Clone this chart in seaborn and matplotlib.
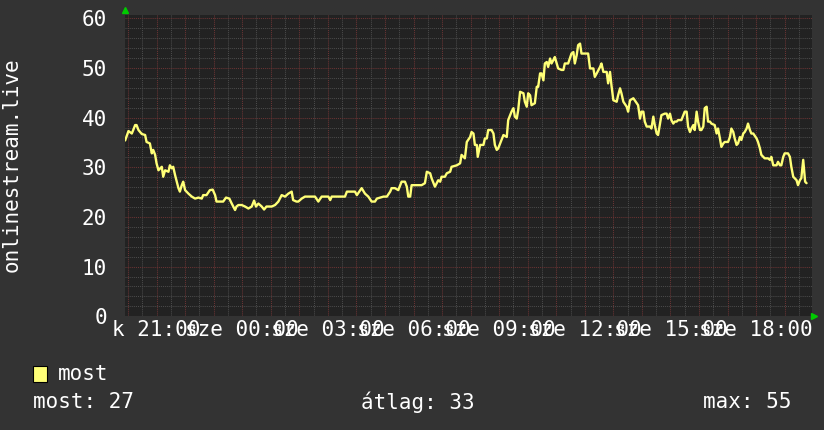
import matplotlib
matplotlib.use("Agg")
import matplotlib.pyplot as plt
import seaborn as sns
import pandas as pd
from matplotlib.patches import Rectangle

# minutes after 20:00 (tuesday)
minutes = [
    -6, 1, 8, 11, 15, 18, 22, 29, 36, 39, 46, 50, 53, 57, 60, 64, 71, 74, 78, 85,
    88, 92, 95, 99, 106, 109, 113, 116, 120, 127, 134, 141, 148, 155, 158, 165, 172, 178, 183, 186,
    193, 200, 206, 213, 218, 225, 228, 232, 239, 246, 253, 260, 265, 269, 274, 281, 286, 291, 302, 309,
    316, 323, 330, 337, 344, 347, 354, 358, 365, 372, 393, 400, 407, 421, 425, 428, 456, 460, 477, 481,
    491, 498, 505, 512, 519, 523, 537, 544, 551, 554, 561, 568, 575, 582, 586, 589, 593, 596, 603, 617,
    624, 628, 635, 638, 645, 652, 656, 659, 666, 670, 677, 680, 691, 698, 701, 708, 712, 719, 722, 726,
    729, 733, 735, 740, 747, 750, 754, 757, 764, 768, 771, 775, 778, 782, 789, 796, 799, 806, 810, 813,
    817, 820, 824, 831, 834, 838, 841, 845, 848, 855, 859, 862, 866, 869, 873, 876, 880, 883, 887, 890,
    894, 897, 901, 904, 911, 915, 918, 925, 932, 936, 939, 943, 946, 950, 953, 967, 971, 978, 981, 985,
    992, 995, 999, 1006, 1009, 1013, 1016, 1020, 1027, 1030, 1034, 1037, 1041, 1048, 1051, 1055, 1062, 1069, 1072, 1076,
    1079, 1083, 1086, 1090, 1097, 1100, 1104, 1107, 1111, 1114, 1118, 1121, 1128, 1132, 1135, 1139, 1142, 1146, 1149, 1153,
    1156, 1163, 1167, 1170, 1174, 1177, 1181, 1184, 1188, 1191, 1195, 1198, 1202, 1205, 1209, 1212, 1216, 1219, 1223, 1226,
    1233, 1237, 1240, 1244, 1247, 1251, 1254, 1261, 1265, 1268, 1272, 1275, 1279, 1282, 1286, 1289, 1293, 1296, 1300, 1303,
    1307, 1310, 1314, 1321, 1324, 1328, 1331, 1335, 1338, 1345, 1349, 1352, 1356, 1363, 1366, 1370, 1373, 1377, 1380, 1387,
    1391, 1394, 1398, 1401, 1405, 1408, 1412, 1415, 1419, 1423, 1426,
]
visitors = [
    35.4, 37.3, 36.8, 37.5, 38.5, 38.5, 37.5, 36.7, 36.5, 35.1, 34.8, 32.8, 33.5, 32.5, 30.8, 29.4, 30.1, 28.1, 29.4, 29.1,
    30.4, 29.8, 30.1, 28.4, 25.8, 25.1, 26.4, 27.1, 25.4, 24.7, 24.1, 23.7, 23.9, 23.7, 24.4, 24.4, 25.4, 25.5, 24.4, 23.1,
    23.1, 23.1, 23.9, 23.7, 22.7, 21.4, 22.1, 22.4, 22.4, 22.1, 21.7, 22.1, 23.3, 22.1, 22.7, 22.1, 21.5, 22.1, 22.1, 22.4,
    23.1, 24.4, 24.1, 24.7, 25.1, 23.4, 23.1, 23.1, 23.7, 24.1, 24.1, 23.1, 24.1, 24.1, 23.4, 24.1, 24.1, 25.1, 25.1, 24.4,
    25.8, 24.7, 24.1, 23.1, 23.1, 23.7, 24.1, 24.1, 25.1, 25.8, 25.8, 25.4, 27.1, 27.1, 26.1, 24.1, 24.1, 26.4, 26.4, 26.4,
    26.8, 29.1, 28.8, 27.8, 26.1, 27.4, 27.1, 28.1, 28.1, 28.8, 29.1, 30.1, 30.4, 30.8, 32.5, 31.8, 35.1, 36.1, 37.1, 36.8,
    34.5, 34.5, 32.1, 34.5, 34.5, 35.8, 35.8, 37.5, 37.5, 36.8, 34.5, 33.5, 33.8, 34.8, 36.5, 36.1, 39.5, 41.2, 41.9, 40.2,
    39.8, 41.5, 45.2, 44.9, 43.2, 42.2, 44.9, 44.5, 42.5, 42.9, 46.2, 46.2, 48.9, 48.9, 47.5, 50.9, 51.2, 50.2, 51.9, 50.9,
    51.6, 52.2, 50.9, 49.9, 49.6, 49.6, 50.9, 50.9, 52.9, 53.2, 50.9, 52.6, 54.6, 54.9, 52.9, 52.9, 49.9, 49.9, 48.2, 48.9,
    50.2, 50.9, 49.2, 49.2, 46.9, 49.2, 46.5, 43.5, 43.2, 44.5, 45.9, 44.9, 43.2, 42.2, 41.2, 43.5, 43.9, 42.9, 42.5, 39.8,
    41.2, 41.2, 39.2, 38.2, 38.2, 37.8, 40.2, 38.5, 36.8, 36.5, 38.8, 40.5, 40.8, 40.8, 39.8, 40.8, 39.5, 38.8, 39.2, 39.2,
    39.5, 39.5, 40.5, 41.2, 41.2, 38.2, 37.1, 37.8, 38.5, 37.5, 41.2, 39.2, 37.5, 37.5, 38.2, 41.9, 42.2, 39.2, 39.2, 38.8,
    38.5, 36.8, 37.8, 35.8, 34.1, 34.8, 35.1, 35.1, 36.1, 37.8, 37.1, 35.8, 34.5, 34.8, 36.1, 35.5, 36.8, 37.1, 37.8, 38.8,
    37.5, 36.8, 36.8, 35.8, 35.1, 33.8, 32.5, 32.1, 31.8, 31.8, 31.5, 32.1, 30.4, 30.4, 31.1, 30.4, 30.4, 32.1, 32.8, 32.8,
    32.1, 30.1, 28.1, 27.8, 27.4, 26.4, 27.4, 27.8, 31.5, 27.1, 26.8,
]

hour_ticks = list(range(0, 1440, 60))
label_ticks = [60, 240, 420, 600, 780, 960, 1140, 1320]
tick_labels = ["k 21:00", "sze 00:00", "sze 03:00", "sze 06:00",
               "sze 09:00", "sze 12:00", "sze 15:00", "sze 18:00"]
y_ticks = [0, 10, 20, 30, 40, 50, 60]

series_name = "most"
stats = ["most: 27", "átlag: 33", "max: 55"]
y_title = "onlinestream.live"

# colours
BG = "#333333"
PLOT_BG = "#222222"
LINE = "#ffff77"
MAJOR = "#6a3434"
MINOR = "#4a4a4a"
ARROW = "#00cc00"

sns.set_style("dark", {"axes.facecolor": PLOT_BG, "figure.facecolor": BG})
plt.rcParams["font.family"] = ["DejaVu Sans Mono"]

W, H = 824, 430
fig = plt.figure(figsize=(W / 100, H / 100), dpi=100)
ax = fig.add_axes([125 / W, 113.7 / H, 686.5 / W, 301.3 / H])
ax.set_facecolor(PLOT_BG)

df = pd.DataFrame({"perc": minutes, "most": visitors})
sns.lineplot(data=df, x="perc", y="most", ax=ax, color=LINE, linewidth=1.7)

ax.set_xlim(-6.3, 1436.4)
ax.set_ylim(0, 60.66)

ax.set_xticks(hour_ticks)
ax.set_xticklabels([tick_labels[label_ticks.index(t)] if t in label_ticks else ""
                    for t in hour_ticks])
ax.set_xticks(range(30, 1440, 60), minor=True)
ax.set_yticks(y_ticks)
ax.set_yticks([v for v in range(0, 61, 2) if v % 10], minor=True)

ax.grid(which="major", color=MAJOR, linestyle=(0, (1, 1)), linewidth=0.75)
ax.grid(which="minor", color=MINOR, linestyle=(0, (1, 1)), linewidth=0.75)
ax.set_axisbelow(True)
ax.tick_params(which="both", length=0, colors="white", labelsize=15)
ax.tick_params(axis="x", pad=3)
ax.tick_params(axis="y", pad=13)
ax.set_xlabel("")
ax.set_ylabel("")
for s in ax.spines.values():
    s.set_visible(False)

# little green arrows at the axis ends
ax.plot([0], [1.017], marker="^", color=ARROW, markersize=4, transform=ax.transAxes, clip_on=False)
ax.plot([1.003], [0.0], marker=">", color=ARROW, markersize=4, transform=ax.transAxes, clip_on=False)

fig.text(12 / W, 1 - 165 / H, y_title, rotation=90, ha="center", va="center",
         color="white", fontsize=15)

# legend + stats row
fig.patches.append(Rectangle((33 / W, 1 - 382 / H), 14 / W, 16 / H, transform=fig.transFigure,
                             facecolor=LINE, edgecolor="black", linewidth=0.8))
fig.text(58 / W, 1 - 374 / H, series_name, ha="left", va="center", color="white", fontsize=15)
fig.text(33 / W, 1 - 402 / H, stats[0], ha="left", va="center", color="white", fontsize=15)
fig.text(418 / W, 1 - 402 / H, stats[1], ha="center", va="center", color="white", fontsize=15)
fig.text(791 / W, 1 - 402 / H, stats[2], ha="right", va="center", color="white", fontsize=15)

fig.savefig("out.png", dpi=100, facecolor=BG)
